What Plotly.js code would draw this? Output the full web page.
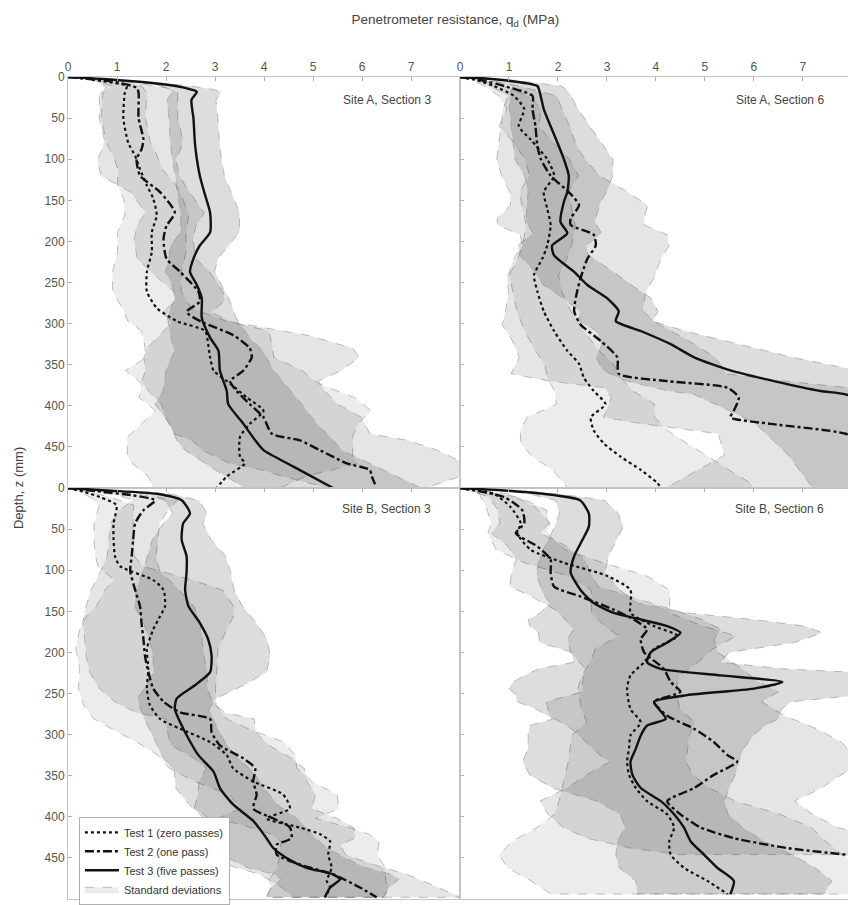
<!DOCTYPE html>
<html>
<head>
<meta charset="utf-8">
<script src="https://cdn.plot.ly/plotly-3.0.1.min.js"></script>
<style>html,body{margin:0;padding:0;background:#fff;}#chart{width:848px;height:905px;}</style>
</head>
<body>
<div id="chart"></div>
<script>
// ---------- Site A, Section 3 ----------
const A3_t1_z = [0,2,5,11,19,50,80,96,112,132,148,168,189,213,237,261,281,297,309,325,341,357,373,390,406,422,438,462,470,486,500];
const A3_t1_q = [0,0.35,0.7,1.2,1.16,1.13,1.23,1.37,1.47,1.61,1.74,1.81,1.71,1.71,1.61,1.61,1.81,2.22,2.8,2.86,2.9,2.97,3.31,3.65,3.99,3.71,3.51,3.51,3.61,3.24,3.03];
const A3_t1_sd = [0,0.05,0.15,0.3,0.45,0.45,0.45,0.45,0.45,0.6,0.6,0.65,0.7,0.7,0.7,0.7,0.7,1.0,1.3,1.3,1.3,1.8,1.8,2.2,2.2,2.2,2.3,2.3,2.3,1.6,1.3];

const A3_t2_z = [0,2,5,13,19,50,76,88,100,120,140,165,181,197,221,237,261,273,286,298,314,330,341,357,370,382,398,414,434,442,454,470,478,486,500];
const A3_t2_q = [0,0.4,0.85,1.4,1.44,1.44,1.54,1.5,1.4,1.47,1.88,2.18,2.01,1.95,2.01,2.29,2.66,2.69,2.42,2.73,3.37,3.71,3.75,3.58,3.31,3.44,3.71,3.99,4.16,4.73,5.14,5.69,6.16,6.2,6.3];
const A3_t2_sd = [0,0.1,0.3,0.6,0.8,0.8,0.8,0.8,0.8,0.8,0.6,0.6,0.6,0.6,0.6,0.6,0.5,0.5,0.5,0.6,1.5,2.1,2.2,2.0,1.8,1.8,1.8,2.0,2.0,2.2,2.4,2.4,2.2,1.8,1.0];

const A3_t3_z = [0,3,7,11,15,18,28,50,80,100,120,140,165,189,205,221,237,253,269,293,317,333,357,382,398,422,442,454,474,500];
const A3_t3_q = [0,0.86,1.67,2.2,2.5,2.63,2.52,2.56,2.59,2.63,2.69,2.78,2.9,2.9,2.69,2.56,2.49,2.63,2.73,2.73,2.9,3.07,3.1,3.24,3.27,3.58,3.82,3.99,4.6,5.41];
const A3_t3_sd = [0,0.05,0.15,0.3,0.45,0.5,0.5,0.5,0.5,0.5,0.5,0.55,0.6,0.6,0.6,0.5,0.5,0.5,0.55,0.7,0.8,0.9,1.1,1.3,1.5,1.5,1.6,1.6,1.7,1.8];

// ---------- Site A, Section 6 ----------
const A6_t1_z = [0,4,11,23,39,60,76,100,120,140,160,180,205,221,241,261,285,309,333,349,366,382,398,414,430,446,462,478,494,500];
const A6_t1_q = [0,0.35,0.69,1.1,1.31,1.2,1.44,1.78,1.92,1.71,1.78,1.85,1.78,1.68,1.51,1.58,1.71,1.92,2.19,2.43,2.53,2.73,2.97,2.67,2.73,2.94,3.28,3.69,4.03,4.1];
const A6_t1_sd = [0,0.1,0.2,0.3,0.35,0.4,0.4,0.45,0.5,0.5,0.5,0.5,0.5,0.5,0.5,0.5,0.55,0.6,0.65,0.7,0.75,0.8,1.0,1.3,1.5,1.7,1.8,1.8,1.9,1.9];

const A6_t2_z = [0,4,11,23,39,60,84,100,120,140,156,172,180,192,205,221,245,261,285,301,321,341,361,370,378,390,406,414,422,434,460,500];
const A6_t2_q = [0,0.45,0.9,1.48,1.48,1.54,1.58,1.65,1.85,2.22,2.43,2.26,2.26,2.73,2.77,2.6,2.46,2.39,2.33,2.46,2.87,3.21,3.24,4.23,5.46,5.69,5.59,5.52,6.34,7.87,8.8,9.6];
const A6_t2_sd = [0,0.1,0.3,0.5,0.6,0.7,0.8,0.9,1.0,1.2,1.4,1.5,1.5,1.5,1.5,1.5,1.5,1.4,1.4,1.6,1.8,2.0,2.2,2.4,2.5,2.6,2.6,2.6,2.6,2.6,3.4,5.4];

const A6_t3_z = [0,3,11,19,39,60,80,100,120,140,152,176,190,205,217,237,253,269,285,297,309,325,341,357,370,382,386,420,460,500];
const A6_t3_q = [0,0.76,1.58,1.63,1.71,1.85,1.99,2.12,2.22,2.19,2.12,2.05,2.19,1.88,1.92,2.33,2.6,3.0,3.24,3.18,3.69,4.3,4.78,5.52,6.41,7.36,7.87,9.2,10.0,10.6];
const A6_t3_sd = [0,0.2,0.5,0.6,0.7,0.8,0.9,1.0,0.9,0.8,0.75,0.7,0.7,0.7,0.7,0.8,0.9,0.9,0.8,0.75,0.9,1.4,2.0,2.6,3.0,3.1,3.1,3.2,3.3,3.4];

// ---------- Site B, Section 3 ----------
const B3_t1_z = [0,5,11,21,43,63,83,95,112,124,144,156,172,196,220,244,264,281,293,309,325,341,357,373,390,402,413,421,430,446,462,478,486,498];
const B3_t1_q = [0,0.35,0.65,0.99,0.93,0.93,0.96,1.06,1.74,1.95,1.98,1.88,1.74,1.61,1.64,1.61,1.67,1.88,2.29,2.9,3.24,3.37,3.78,4.39,4.53,4.05,4.73,5.14,5.35,5.31,5.38,5.28,5.35,5.24];
const B3_t1_sd = [0,0.1,0.2,0.35,0.4,0.4,0.4,0.45,0.8,1.2,1.4,1.5,1.5,1.45,1.4,1.4,1.35,1.35,1.4,1.5,1.4,1.3,1.2,1.1,1.0,1.0,1.0,1.0,1.0,1.0,1.1,1.2,1.2,1.2];

const B3_t2_z = [0,4,9,15,27,43,63,83,101,124,144,164,184,204,224,244,260,273,281,297,313,329,341,357,373,390,402,413,426,434,446,458,470,486,498];
const B3_t2_q = [0,0.6,1.33,1.78,1.54,1.37,1.33,1.3,1.27,1.37,1.47,1.5,1.54,1.57,1.64,1.74,1.95,2.29,2.9,2.93,3.1,3.58,3.82,3.78,3.85,3.78,4.19,4.53,4.56,4.26,4.26,4.73,5.41,5.96,6.3];
const B3_t2_sd = [0,0.1,0.3,0.45,0.5,0.5,0.5,0.5,0.6,0.9,1.1,1.2,1.2,1.2,1.2,1.1,1.0,0.9,0.9,0.9,1.0,1.0,1.0,1.1,1.2,1.2,1.3,1.3,1.3,1.3,1.4,1.5,1.5,1.6,1.7];

const B3_t3_z = [0,3,7,15,31,43,63,83,103,124,144,164,184,204,224,240,256,269,285,305,325,345,365,385,405,426,438,450,462,470,476,486,498];
const B3_t3_q = [0,0.8,1.81,2.32,2.49,2.35,2.32,2.42,2.42,2.39,2.46,2.69,2.86,2.93,2.9,2.59,2.22,2.18,2.29,2.46,2.66,2.97,3.1,3.37,3.78,4.05,4.19,4.46,4.87,5.41,5.55,5.35,5.24];
const B3_t3_sd = [0,0.1,0.25,0.35,0.35,0.4,0.6,0.8,0.9,1.0,1.1,1.15,1.2,1.2,1.15,1.0,0.8,0.7,0.7,0.7,0.75,0.8,0.9,0.9,0.95,1.0,1.1,1.2,1.2,1.2,1.2,1.2,1.2];

// ---------- Site B, Section 6 ----------
const B6_t1_z = [0,7,23,43,55,75,91,107,124,140,152,168,180,196,212,228,244,269,285,301,317,333,349,365,381,397,413,430,446,462,478,494];
const B6_t1_q = [0,0.69,1.03,1.24,1.17,1.44,2.12,3.01,3.48,3.48,3.48,3.96,4.44,3.96,3.76,3.48,3.41,3.48,3.69,3.48,3.45,3.41,3.45,3.59,3.82,4.23,4.37,4.27,4.3,4.57,5.05,5.46];
const B6_t1_sd = [0,0.3,0.5,0.6,0.6,0.7,0.8,0.8,0.8,0.8,0.8,1.0,1.2,1.2,1.1,1.0,1.0,1.0,1.1,1.2,1.2,1.2,1.3,1.5,1.8,2.3,2.8,3.2,3.5,3.6,3.6,3.6];

const B6_t2_z = [0,11,27,43,55,71,87,103,120,132,148,160,172,184,200,220,236,248,260,277,293,309,325,333,349,365,381,397,413,426,438,446];
const B6_t2_q = [0,0.9,1.27,1.31,1.14,1.58,1.85,1.85,1.92,2.46,3.14,3.55,3.82,3.69,3.76,4.16,4.3,4.5,3.96,4.23,4.78,5.18,5.46,5.66,5.18,4.78,4.23,4.5,4.91,5.59,6.68,7.87];
const B6_t2_sd = [0,0.3,0.5,0.5,0.5,0.6,0.7,0.8,0.9,1.0,1.2,1.4,1.5,1.5,1.5,1.6,1.8,2.0,2.2,2.4,2.5,2.6,2.6,2.6,2.6,2.6,2.6,2.7,2.8,3.0,3.2,3.4];

const B6_t3_z = [0,3,7,15,31,47,63,83,103,124,140,152,160,168,176,188,200,212,220,228,236,244,252,260,269,281,289,301,317,333,349,365,381,397,413,430,446,462,478,494];
const B6_t3_q = [0,0.9,1.7,2.45,2.63,2.63,2.5,2.33,2.26,2.46,2.73,3.14,3.69,4.23,4.5,4.23,3.89,3.82,4.1,5.32,6.58,6.0,4.64,3.96,4.06,4.2,3.82,3.69,3.59,3.48,3.52,3.69,4.1,4.37,4.57,4.71,4.98,5.25,5.59,5.52];
const B6_t3_sd = [0,0.1,0.3,0.5,0.6,0.7,0.7,0.7,0.7,0.8,0.9,1.5,2.3,2.8,2.9,2.6,1.6,1.5,2.5,4.0,5.5,5.0,3.5,2.8,2.5,2.3,2.4,2.3,2.2,2.2,2.1,1.8,1.3,1.1,1.2,1.5,1.8,2.0,2.0,1.9];

// ---------- labels ----------
const testNames = ['Test 1 (zero passes)', 'Test 2 (one pass)', 'Test 3 (five passes)'];
const bandName = 'Standard deviations';
const panelTitles = ['Site A, Section 3', 'Site A, Section 6', 'Site B, Section 3', 'Site B, Section 6'];
const xTicks = [0,1,2,3,4,5,6,7];
const yTicksTop = [0,50,100,150,200,250,300,350,400,450];
const yTicksBottom = [0,50,100,150,200,250,300,350,400,450,500];

// ---------- build ----------
const panels = [
  {xa:'x',  ya:'y',  data:[[A3_t1_z,A3_t1_q,A3_t1_sd],[A3_t2_z,A3_t2_q,A3_t2_sd],[A3_t3_z,A3_t3_q,A3_t3_sd]]},
  {xa:'x2', ya:'y2', data:[[A6_t1_z,A6_t1_q,A6_t1_sd],[A6_t2_z,A6_t2_q,A6_t2_sd],[A6_t3_z,A6_t3_q,A6_t3_sd]]},
  {xa:'x3', ya:'y3', data:[[B3_t1_z,B3_t1_q,B3_t1_sd],[B3_t2_z,B3_t2_q,B3_t2_sd],[B3_t3_z,B3_t3_q,B3_t3_sd]]},
  {xa:'x4', ya:'y4', data:[[B6_t1_z,B6_t1_q,B6_t1_sd],[B6_t2_z,B6_t2_q,B6_t2_sd],[B6_t3_z,B6_t3_q,B6_t3_sd]]}
];
const bandFill = ['rgba(0,0,0,0.075)','rgba(0,0,0,0.10)','rgba(0,0,0,0.135)'];
const lineDash = ['dot','dashdot','solid'];
const lineWidth = [2.2,2.4,2.4];

const traces = [];
panels.forEach((p, pi) => {
  p.data.forEach((d, ti) => {
    const [z, q, sd] = d;
    const lo = q.map((v,i)=>v-sd[i]);
    const hi = q.map((v,i)=>v+sd[i]);
    traces.push({
      x: lo.concat(hi.slice().reverse()),
      y: z.concat(z.slice().reverse()),
      xaxis: p.xa, yaxis: p.ya,
      type: 'scatter', mode: 'lines', fill: 'toself',
      fillcolor: bandFill[ti],
      line: {color:'rgba(130,130,130,0.5)', width:1, dash:'dash'},
      name: bandName,
      showlegend: (pi === 2 && ti === 0),
      legendrank: 4,
      hoverinfo: 'skip'
    });
  });
});
panels.forEach((p, pi) => {
  p.data.forEach((d, ti) => {
    const [z, q] = d;
    traces.push({
      x: q, y: z, xaxis: p.xa, yaxis: p.ya,
      type: 'scatter', mode: 'lines',
      line: {color:'#111', width: lineWidth[ti], dash: lineDash[ti], shape:'spline', smoothing:0.6},
      name: testNames[ti],
      showlegend: pi === 2,
      legendrank: ti + 1
    });
  });
});

const FONT = 'Liberation Sans, Arial, sans-serif';
const axBase = {
  showgrid:false, zeroline:false, showline:true, mirror:true,
  linecolor:'#c4c4c4', linewidth:1, ticks:'inside', ticklen:4, tickcolor:'#b0b0b0',
  tickfont:{family:FONT, size:12, color:'#555'}
};
const xL = [0, 392/780], xR = [392/780, 1];
const layout = {
  width:848, height:905,
  margin:{l:68, r:0, t:77, b:0, pad:0},
  paper_bgcolor:'#fff', plot_bgcolor:'#fff',
  font:{family:FONT, size:12, color:'#444'},
  title:{text:'Penetrometer resistance, q<sub>d</sub> (MPa)', x:0.537, xref:'container', y:0.979, yref:'container', xanchor:'center', yanchor:'middle', font:{family:FONT, size:13.5, color:'#444'}},
  xaxis: Object.assign({}, axBase, {domain:xL, range:[0,8], side:'top', anchor:'y', tickmode:'array', tickvals:xTicks}),
  yaxis: Object.assign({}, axBase, {domain:[0.5,1], range:[500,0], anchor:'x', tickmode:'array', tickvals:yTicksTop}),
  xaxis2: Object.assign({}, axBase, {domain:xR, range:[0,7.92], side:'top', anchor:'y2', tickmode:'array', tickvals:xTicks}),
  yaxis2: Object.assign({}, axBase, {domain:[0.5,1], range:[500,0], anchor:'x2', tickmode:'array', tickvals:yTicksTop, showticklabels:false}),
  xaxis3: Object.assign({}, axBase, {domain:xL, range:[0,8], side:'top', anchor:'y3', tickmode:'array', tickvals:xTicks, showticklabels:false}),
  yaxis3: Object.assign({}, axBase, {domain:[0,0.5], range:[500,0], anchor:'x3', tickmode:'array', tickvals:yTicksBottom}),
  xaxis4: Object.assign({}, axBase, {domain:xR, range:[0,7.92], side:'top', anchor:'y4', tickmode:'array', tickvals:xTicks, showticklabels:false}),
  yaxis4: Object.assign({}, axBase, {domain:[0,0.5], range:[500,0], anchor:'x4', tickmode:'array', tickvals:yTicksBottom, showticklabels:false}),
  showlegend:true,
  legend:{x:0.014, y:0.1, xanchor:'left', yanchor:'top', xref:'paper', yref:'paper',
    bgcolor:'#fff', bordercolor:'#b0b0b0', borderwidth:1, tracegroupgap:0,
    font:{family:FONT, size:11, color:'#333'}, itemwidth:34},
  annotations:[
    {text:panelTitles[0], xref:'x domain', yref:'y domain', x:0.931, y:0.944, xanchor:'right', yanchor:'middle', showarrow:false, font:{family:FONT,size:12,color:'#444'}},
    {text:panelTitles[1], xref:'x2 domain', yref:'y2 domain', x:0.943, y:0.944, xanchor:'right', yanchor:'middle', showarrow:false, font:{family:FONT,size:12,color:'#444'}},
    {text:panelTitles[2], xref:'x3 domain', yref:'y3 domain', x:0.931, y:0.949, xanchor:'right', yanchor:'middle', showarrow:false, font:{family:FONT,size:12,color:'#444'}},
    {text:panelTitles[3], xref:'x4 domain', yref:'y4 domain', x:0.943, y:0.949, xanchor:'right', yanchor:'middle', showarrow:false, font:{family:FONT,size:12,color:'#444'}},
    {text:'Depth, z (mm)', xref:'paper', yref:'paper', x:-0.064, y:0.5, xanchor:'center', yanchor:'middle', textangle:-90, showarrow:false, font:{family:FONT,size:13,color:'#444'}}
  ]
};

Plotly.newPlot('chart', traces, layout, {displayModeBar:false, staticPlot:true});
</script>
</body>
</html>
